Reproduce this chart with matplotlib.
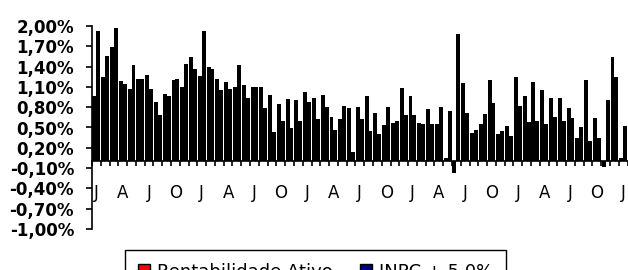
import numpy as np
import matplotlib
matplotlib.use("Agg")
import matplotlib.pyplot as plt
from matplotlib.patches import Patch

# monthly returns (%), two bars per month, starting in January
rentabilidade = [0.97, 1.25, 1.69, 1.19, 1.07, 1.22, 1.28, 0.88, 1.00, 1.20,
                 1.10, 1.54, 1.26, 1.39, 1.22, 1.17, 1.10, 1.13, 1.10, 1.10,
                 0.98, 0.85, 0.92, 0.91, 1.02, 0.93, 0.98, 0.66, 0.62, 0.79,
                 0.80, 0.96, 0.72, 0.53, 0.56, 1.09, 0.97, 0.57, 0.77, 0.55,
                 0.05, -0.17, 1.16, 0.42, 0.55, 1.20, 0.40, 0.52, 1.24, 0.97,
                 1.17, 1.05, 0.93, 0.93, 0.79, 0.35, 1.20, 0.64, -0.08, 1.54,
                 0.05]
inpc = [1.93, 1.55, 1.97, 1.14, 1.42, 1.22, 1.07, 0.69, 0.96, 1.21,
        1.44, 1.37, 1.93, 1.37, 1.06, 1.07, 1.42, 0.94, 1.10, 0.79,
        0.43, 0.59, 0.49, 0.60, 0.88, 0.63, 0.80, 0.47, 0.82, 0.14,
        0.62, 0.45, 0.40, 0.81, 0.60, 0.68, 0.69, 0.55, 0.55, 0.80,
        0.75, 1.88, 0.71, 0.47, 0.70, 0.86, 0.45, 0.38, 0.82, 0.58,
        0.60, 0.55, 0.65, 0.60, 0.64, 0.50, 0.30, 0.35, 0.91, 1.24,
        0.52]
month_initials = ['J', 'F', 'M', 'A', 'M', 'J', 'J', 'A', 'S', 'O', 'N', 'D']
y_ticks = [-1.0, -0.7, -0.4, -0.1, 0.2, 0.5, 0.8, 1.1, 1.4, 1.7, 2.0]
series_names = ['Rentabilidade Ativo', 'INPC + 5,0%']
series_colors = ['#ff0000', '#000080']

n = len(rentabilidade)
x = np.arange(n)
w = 0.445

fig = plt.figure(figsize=(6.28, 2.70), dpi=100)
ax = fig.add_axes([92 / 628, 1 - 229 / 270, 535.6 / 628, 203 / 270])

ax.bar(x + 0.5 - w / 2, rentabilidade, width=w, color='black', linewidth=0)
ax.bar(x + 0.5 + w / 2, inpc, width=w, color='black', linewidth=0)

ax.set_xlim(0, n)
ax.set_ylim(-1.0, 2.0)

for s in ['top', 'right']:
    ax.spines[s].set_visible(False)
ax.spines['bottom'].set_position(('data', 0))
ax.spines['bottom'].set_linewidth(1.2)
ax.spines['left'].set_linewidth(1.2)

# y axis
ax.set_yticks(y_ticks)
ax.set_yticklabels([f"{v:.2f}%".replace('.', ',') for v in y_ticks],
                   fontsize=12, fontweight='bold', family='DejaVu Sans')
ax.tick_params(axis='y', direction='out', length=4.3, width=1.2, pad=8.6)

# x axis: ticks between months, labels every quarter
ax.set_xticks(np.arange(n + 1))
ax.set_xticklabels([])
ax.tick_params(axis='x', which='major', direction='out', length=3.6, width=1.2)
lab_pos = np.arange(0, n, 3)
ax.set_xticks(lab_pos + 0.5, minor=True)
ax.set_xticklabels([month_initials[i % 12] for i in lab_pos], minor=True,
                   fontsize=12, family='DejaVu Sans')
ax.tick_params(axis='x', which='minor', length=0, pad=16.5)

handles = [Patch(facecolor=c, edgecolor='black', linewidth=1.0) for c in series_colors]
leg = fig.legend(handles, series_names, loc='upper left',
                 bbox_to_anchor=(125 / 628, 1 - 250 / 270), ncol=2,
                 fontsize=13, frameon=True, fancybox=False, shadow=False,
                 borderaxespad=0, borderpad=0.7, handlelength=0.67,
                 handleheight=0.67, handletextpad=0.4, columnspacing=1.5)
leg.get_frame().set_edgecolor('black')
leg.get_frame().set_linewidth(1.0)
leg.get_frame().set_alpha(1)

fig.savefig('out.png', dpi=100)
